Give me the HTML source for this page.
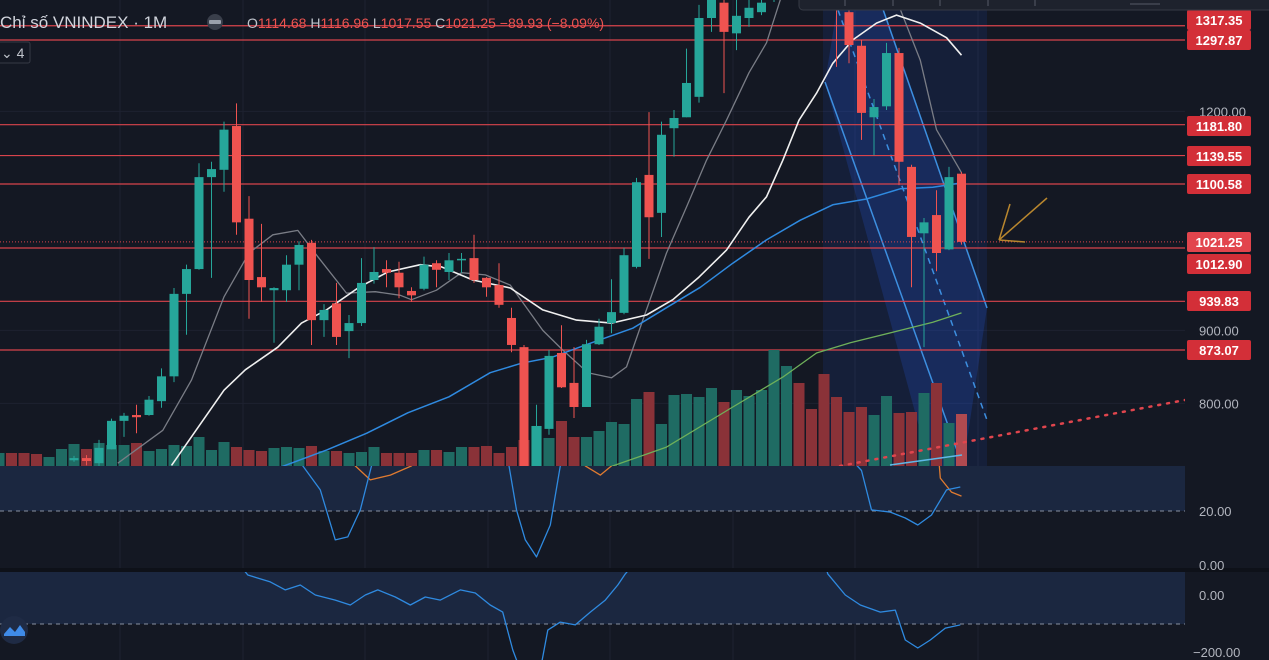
<!DOCTYPE html>
<html><head><meta charset="utf-8"><style>
html,body{margin:0;padding:0;background:#141823;overflow:hidden}
svg{display:block}
text{font-family:"Liberation Sans","Noto Sans CJK SC",sans-serif}
</style></head><body>
<svg id="chart" width="1269" height="660" viewBox="0 0 1269 660" xmlns="http://www.w3.org/2000/svg">
<defs>
<clipPath id="cm"><rect x="0" y="0" width="1185" height="466"/></clipPath>
<clipPath id="cp1"><rect x="0" y="466" width="1185" height="102"/></clipPath>
<clipPath id="cp2"><rect x="0" y="572" width="1185" height="88"/></clipPath>
</defs>
<rect x="0" y="0" width="1269" height="660" fill="#141823"/>
<g id="grid"></g>
<rect x="0" y="466" width="1185" height="45" fill="#1b2740"/>
<rect x="0" y="572" width="1185" height="52" fill="#1b2740"/>
<rect x="0" y="568" width="1269" height="4" fill="#0e1119"/>
<line x1="0" y1="511" x2="1185" y2="511" stroke="#8890a0" stroke-dasharray="4,4"/>
<line x1="0" y1="624" x2="1185" y2="624" stroke="#8890a0" stroke-dasharray="4,4"/>
<g id="channel" clip-path="url(#cm)">
<rect x="823" y="0" width="164" height="466" fill="rgba(41,98,255,0.10)"/>
<polygon points="840,-10 880,0 987,308 963,467 930,467 825,82" fill="rgba(41,98,255,0.18)"/>
<line x1="825" y1="82" x2="963" y2="467" stroke="#3d8fe0" stroke-width="1.5"/>
<line x1="878" y1="-5" x2="987" y2="308" stroke="#3d8fe0" stroke-width="1.5"/>
<line x1="838" y1="10" x2="987" y2="420" stroke="#3d8fe0" stroke-width="1.5" stroke-dasharray="6,5"/>
</g>
<g id="levels"></g>
<g id="vol" clip-path="url(#cm)"></g>
<g id="ma" clip-path="url(#cm)"></g>
<g id="candles" clip-path="url(#cm)"></g>
<g clip-path="url(#cm)">
<line x1="840" y1="466" x2="1185" y2="400" stroke="#e0454d" stroke-width="2.5" stroke-dasharray="2,7" stroke-linecap="round"/>
<line x1="890" y1="465" x2="962" y2="455" stroke="#5fb8e8" stroke-width="1.5"/>
</g>
<g stroke="#b8862e" stroke-width="1.5" fill="none">
<line x1="1047" y1="198" x2="999" y2="240"/>
<line x1="999" y1="240" x2="1010" y2="204"/>
<line x1="999" y1="240" x2="1025" y2="242"/>
</g>
<g id="p1" clip-path="url(#cp1)"></g>
<g id="p2" clip-path="url(#cp2)"></g>
<g id="axis"></g>
<rect x="799" y="-20" width="480" height="30" rx="4" fill="#1e222d" stroke="#363a45"/>
<g stroke="#555a66"><line x1="845" y1="0" x2="845" y2="6"/><line x1="893" y1="0" x2="893" y2="6"/><line x1="940" y1="0" x2="940" y2="6"/><line x1="988" y1="0" x2="988" y2="6"/><line x1="1035" y1="0" x2="1035" y2="6"/><line x1="1130" y1="4" x2="1160" y2="4"/></g>
<text x="0" y="28" font-size="17" fill="#d1d4dc">Chỉ số VNINDEX · 1M</text>
<circle cx="215" cy="22" r="8" fill="#3a3f4b"/>
<rect x="209" y="20" width="12" height="4" rx="1" fill="#9aa0ab"/>
<text x="247" y="28" font-size="14"><tspan fill="#c0c4cc">O</tspan><tspan fill="#ef5350">1114.68 </tspan><tspan fill="#c0c4cc">H</tspan><tspan fill="#ef5350">1116.96 </tspan><tspan fill="#c0c4cc">L</tspan><tspan fill="#ef5350">1017.55 </tspan><tspan fill="#c0c4cc">C</tspan><tspan fill="#ef5350">1021.25 −89.93 (−8.09%)</tspan></text>
<rect x="-4" y="42" width="34" height="21" rx="2" fill="none" stroke="#363a45"/>
<text x="1" y="58" font-size="14" fill="#c0c4cc">⌄ 4</text>
<circle cx="14" cy="630" r="14" fill="#1f2b45"/>
<path d="M4 634 L10 627 L15 632 L20 625 L25 632 L25 636 L4 636Z" fill="#3f8be8"/>
</svg>
<script>
var NS="http://www.w3.org/2000/svg";
// ---- data ----
var startIndex=-6;
var opens=[700,702,702,702,700,700,722,725,718,737,776,784,784,803,837,950,984,1110,1120,1180,1053,973,955,955,990,1020,914,937,899,910,969,984,979,954,957,992,980,996,999,972,962,917,877,713,765,869,828,795,881,910,924,987,1113,1061,1177,1192,1220,1328,1349,1307,1328,1336,1360,1380,1410,1395,1385,1370,1336,1290,1192,1207,1280,1124,1033,1058,1011,1114.68];
var closes=[702,700,700,700,702,702,725,721,739,776,783,781,805,837,950,984,1110,1121,1175,1048,969,959,958,990,1017,914,928,891,910,965,980,979,959,948,990,983,996,998,969,959,935,880,713,769,865,822,795,881,905,925,1003,1103,1055,1168,1191,1239,1328,1353,1309,1331,1342,1349,1390,1400,1390,1380,1370,1340,1291,1198,1206,1280,1131,1028,1048,1006,1110,1021.25];
var highs=[705,705,705,705,705,705,728,729,750,779,787,798,810,848,958,990,1129,1131,1186,1211,1084,1046,959,1003,1022,1024,936,965,921,999,1014,996,994,959,1001,996,1006,1006,1031,973,992,931,880,798,873,907,877,887,916,970,1013,1109,1199,1186,1202,1286,1346,1360,1360,1360,1360,1360,1400,1420,1420,1410,1395,1380,1353,1298,1217,1294,1287,1127,1054,1092,1124,1116.96];
var lows=[695,695,695,695,695,695,720,715,714,737,754,759,783,794,829,894,983,972,1090,1031,916,939,883,939,955,880,891,880,862,906,964,959,944,939,955,959,969,979,965,946,931,870,712,712,757,821,780,795,880,896,922,985,998,1028,1138,1192,1212,1309,1225,1284,1316,1332,1350,1370,1375,1370,1355,1261,1266,1161,1140,1202,1099,959,877,981,1010,1017.55];
var volumes=[13,13,13,12,9,17,22,17,23,21,21,23,15,17,21,20,29,16,24,19,16,15,18,19,18,20,15,15,13,14,19,13,13,13,16,16,14,19,19,20,13,19,26,40,28,45,29,29,35,44,42,67,74,42,71,72,69,78,64,76,70,76,116,100,83,57,92,69,54,59,51,70,53,54,73,83,43,52];
var maWhiteIdx=[7.8,12,13.7,16.3,18.2,20.2,22.8,25.1,27.7,29.4,31.9,34.9,37.5,40.2,43,45.8,47.9,50,52.2,54,55.4,56.7,58,59.4,60.7,62.3,64.2,65.8,67.7,69.8,71];
var maWhiteVal=[715,818,846,877,910,928,959,980,990,987,969,958,928,914,910,921,942,973,1010,1055,1083,1133,1188,1225,1266,1298,1321,1332,1321,1301,1277];
var maGrayIdx=[3.5,7.1,9.4,12,14,15.9,17.9,19.5,21.8,24.1,26.1,27,29,31,32.9,34.9,37.5,39.1,41.1,43,44.2,45.5,47.4,49,50.6,52.2,54,55.4,56.5,61,65.8,67.7,69,71];
var maGrayVal=[718,763,832,946,1006,1031,1037,1001,951,953,948,942,955,979,976,962,900,873,842,835,850,914,1006,1069,1133,1188,1253,1294,1353,1420,1353,1270,1175,1116];
var maBlueIdx=[16.6,20.2,23.4,26.7,30,33.3,35.8,38.2,41.4,44.7,47.4,50.1,52.7,55.4,58.1,60.7,63.4,66.1,68.7,71];
var maBlueVal=[713,736,759,787,809,842,855,863,883,903,931,959,992,1024,1051,1072,1080,1094,1096,1102];
var maGreenIdx=[42.9,47.4,52.7,56.7,59.4,62.1,66.1,68.7,71];
var maGreenVal=[713,740,795,836,869,883,900,911,924];
var p1BlueIdx=[17,18.3,19.7,20.9,21.9,22.9,23.8,25,34,34.8,35.4,36.1,37,38.1,38.9,40,60,63,63.8,65.3,66.5,67.5,68.6,69.8,70.9];
var p1BlueVal=[50,36.7,27.8,9.3,10.4,20.4,36.7,50,50,36.7,20.4,9.3,3,14.8,36.7,50,50,35,20.4,19.6,17.4,14.8,18.5,27.8,28.9];
var p1OrangeIdx=[22,22.5,23.7,25.3,27,28,40,40.9,42.1,43,44,69,69.3,70.2,71];
var p1OrangeVal=[50,36.7,31.5,33.3,36.7,50,50,36.7,33.3,36.7,50,50,32.2,27,25.5];
var p2Idx=[13,13.9,15.7,16.9,18.1,19.3,20.9,22.1,23.3,24.3,25.7,26.9,28.1,29.3,30.9,32.1,33.3,34.3,35.1,35.7,37.3,37.9,38.9,40.1,41.3,42.5,43.5,44.1,45,60,60.3,61.7,62.9,64.5,65.7,66.5,67.5,68.5,69.7,70.9];
var p2Val=[120,70,46,18,35,0,-18,-35,0,18,-7,-35,-7,-18,18,7,-35,-60,-193,-263,-263,-123,-95,-105,-60,-18,35,74,120,120,74,0,-35,-60,-53,-158,-186,-158,-116,-105];
var levelPrices=[1317.35,1297.87,1181.80,1139.55,1100.58,1012.90,939.83,873.07];
var levelLabelY=[20,40,126,156,184,264,301,350];
var lastPrice=1021.25;
var axisTicks=[1200,900,800];
var pane1Ticks=[20,0];
var pane2Ticks=[0,-200];
// ---- scales ----
function xOf(i){return 74+i*12.5;}
function yOf(p){return 40+(1297.87-p)*0.7298;}
function yVol(v){return 466-v;}
function yP1(v){return 511-(v-20)*2.7;}
function yP2(v){return 595-v*0.285;}
function mk(tag,attrs,parent){var e=document.createElementNS(NS,tag);for(var k in attrs)e.setAttribute(k,attrs[k]);parent.appendChild(e);return e;}
var UP="#26a69a",DN="#ef5350";
var g=document.getElementById('grid');
[120,243,365,488,610,733,855,978].forEach(function(x){mk('line',{x1:x,y1:0,x2:x,y2:660,stroke:'#1e2230'},g);});
axisTicks.forEach(function(t){mk('line',{x1:0,y1:yOf(t),x2:1185,y2:yOf(t),stroke:'#1e2230'},g);});
var L=document.getElementById('levels');
levelPrices.forEach(function(p){var l=mk('line',{x1:0,y1:yOf(p),x2:1185,y2:yOf(p),stroke:'#d8434c','stroke-width':1.2},L);

});
var lp=mk('line',{x1:0,y1:yOf(lastPrice),x2:1185,y2:yOf(lastPrice),stroke:'#d8434c','stroke-dasharray':'1,2'},L);


var V=document.getElementById('vol');
volumes.forEach(function(v,k){var i=k+startIndex;var up=closes[k]>=opens[k];var c=up?'#1f6b63':'#8a3238';if(k===volumes.length-1)c='#b04a50';
var r=mk('rect',{x:xOf(i)-5.5,y:yVol(v),width:11,height:v,fill:c},V);

});
function line(par,idx,val,fx,fy,col,w,name){var d='';for(var j=0;j<idx.length;j++){d+=(j?'L':'M')+fx(idx[j]).toFixed(1)+' '+fy(val[j]).toFixed(1);}
var p=mk('path',{d:d,fill:'none',stroke:col,'stroke-width':w,'stroke-linejoin':'round'},par);

}
var M=document.getElementById('ma');
line(M,maGrayIdx,maGrayVal,xOf,yOf,'#7a7d86',1.3,'ma-gray');
line(M,maGreenIdx,maGreenVal,xOf,yOf,'#6fb05a',1.3,'ma-green');
line(M,maBlueIdx,maBlueVal,xOf,yOf,'#2f8ae0',1.5,'ma-blue');
line(M,maWhiteIdx,maWhiteVal,xOf,yOf,'#f0f0f0',1.6,'ma-white');
var C=document.getElementById('candles');
opens.forEach(function(o,k){var i=k+startIndex;var c=closes[k];var up=c>=o;var col=up?UP:DN;var x=xOf(i);
var w=mk('line',{x1:x,y1:yOf(highs[k]),x2:x,y2:yOf(lows[k]),stroke:col,'stroke-width':1},C);


var top=yOf(Math.max(o,c)),bot=yOf(Math.min(o,c));
var b=mk('rect',{x:x-4.5,y:top,width:9,height:Math.max(1.5,bot-top),fill:col},C);

});
var P1=document.getElementById('p1');
line(P1,p1OrangeIdx,p1OrangeVal,xOf,yP1,'#e07b30',1.3,'pane1-signal');
line(P1,p1BlueIdx,p1BlueVal,xOf,yP1,'#2f8ae0',1.3,'pane1-line');
var P2=document.getElementById('p2');
line(P2,p2Idx,p2Val,xOf,yP2,'#2f8ae0',1.3,'pane2-line');
var A=document.getElementById('axis');
axisTicks.forEach(function(t){var tx=mk('text',{x:1199,y:yOf(t)+5,'font-size':13,fill:'#b2b5be'},A);tx.textContent=t.toFixed(2);

});
pane1Ticks.forEach(function(t){var tx=mk('text',{x:1199,y:yP1(t)+5,'font-size':13,fill:'#b2b5be'},A);tx.textContent=t.toFixed(2);

});
pane2Ticks.forEach(function(t){var tx=mk('text',{x:t<0?1193:1199,y:yP2(t)+5,'font-size':13,fill:'#b2b5be'},A);tx.textContent=(t<0?'−':'')+Math.abs(t).toFixed(2);

});
function tag(p,y,fill){var r=mk('rect',{x:1187,y:y-10,width:64,height:20,rx:2,fill:fill},A);


var t=mk('text',{x:1219,y:y+5,'font-size':13,fill:'#ffffff','text-anchor':'middle','font-weight':'bold'},A);t.textContent=p.toFixed(2);

}
levelPrices.forEach(function(p,k){tag(p,levelLabelY[k],'#d32f38');});
tag(lastPrice,242,'#e2454d');
</script>
</body></html>
